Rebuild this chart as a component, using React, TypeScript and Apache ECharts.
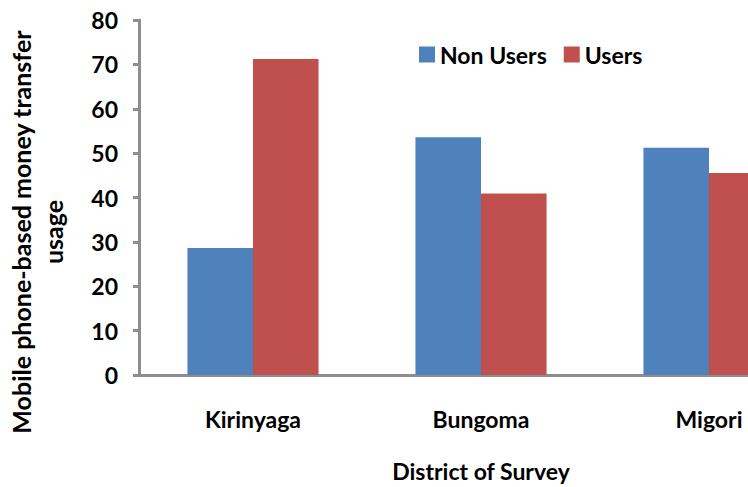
import React, { useEffect, useRef } from "react";
import * as echarts from "echarts";

const categories = ["Kirinyaga", "Bungoma", "Migori"];
const nonUsers = [28.6, 53.6, 51.2];
const users = [71.2, 40.9, 45.5];
const seriesNames = ["Non Users", "Users"];
const yTitleLines = ["Mobile phone-based money transfer", "usage"];
const xTitle = "District of Survey";

const FONT = "Lato, 'Open Sans', sans-serif";

export default function App() {
  const ref = useRef<HTMLDivElement>(null);
  useEffect(() => {
    if (!ref.current) return;
    const chart = echarts.init(ref.current, undefined, { renderer: "svg" });
    chart.setOption({
      animation: false,
      backgroundColor: "#ffffff",
      legend: {
        left: 414,
        top: 38,
        itemWidth: 16,
        itemHeight: 16,
        itemGap: 17,
        icon: "rect",
        textStyle: { fontFamily: FONT, fontSize: 23, fontWeight: "bold", color: "#000" },
        data: seriesNames,
      },
      grid: { left: 139, top: 20, width: 684, height: 358, containLabel: false },
      xAxis: {
        type: "category",
        data: categories,
        axisLine: { lineStyle: { color: "#8e8e8e", width: 3 } },
        axisTick: { show: false },
        axisLabel: { margin: 32, fontFamily: FONT, fontSize: 23, fontWeight: "bold", color: "#000" },
        name: xTitle,
        nameLocation: "middle",
        nameGap: 84,
        nameTextStyle: { fontFamily: FONT, fontSize: 23, fontWeight: "bold", color: "#000", verticalAlign: "top" },
      },
      yAxis: {
        type: "value",
        min: 0,
        max: 80,
        interval: 10,
        splitLine: { show: false },
        axisLine: { show: true, lineStyle: { color: "#8e8e8e", width: 3 } },
        axisTick: { show: true, inside: false, length: 6, lineStyle: { color: "#8e8e8e", width: 3 } },
        axisLabel: { margin: 21, fontFamily: FONT, fontSize: 23, fontWeight: "bold", color: "#000" },
      },
      graphic: [
        {
          type: "text",
          x: 37,
          y: 232,
          rotation: Math.PI / 2,
          style: {
            text: yTitleLines.join("\n"),
            fontFamily: FONT,
            fontSize: 25,
            fontWeight: "bold",
            fill: "#000",
            align: "center",
            verticalAlign: "middle",
            lineHeight: 32,
          },
        },
      ],
      series: [
        {
          name: seriesNames[0],
          type: "bar",
          data: nonUsers,
          barGap: "0%",
          barCategoryGap: "42.5%",
          itemStyle: { color: "#4F81BD" },
        },
        {
          name: seriesNames[1],
          type: "bar",
          data: users,
          barGap: "0%",
          barCategoryGap: "42.5%",
          itemStyle: { color: "#C0504D" },
        },
      ],
    });
    return () => chart.dispose();
  }, []);
  return (
    <div
      style={{
        position: "fixed",
        left: 0,
        top: 0,
        width: 748,
        height: 487,
        overflow: "hidden",
        background: "#fff",
      }}
    >
      <div ref={ref} style={{ width: 830, height: 487 }} />
    </div>
  );
}
